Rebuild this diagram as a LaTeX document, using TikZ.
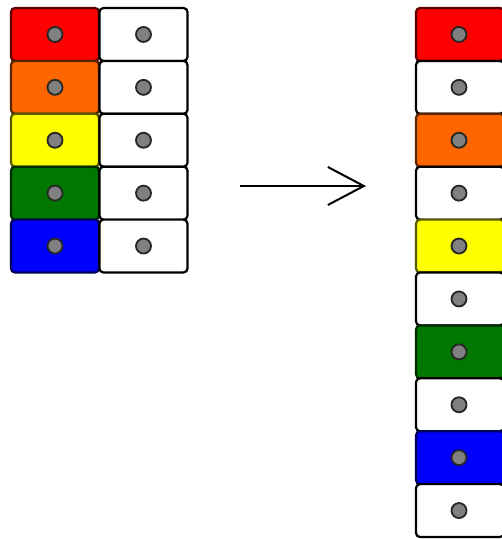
\documentclass[tikz,border=0pt]{standalone}
\usetikzlibrary{arrows.meta}
\definecolor{cred}{RGB}{255,0,0}
\definecolor{corange}{RGB}{255,102,0}
\definecolor{cyellow}{RGB}{255,255,0}
\definecolor{cgreen}{RGB}{0,120,0}
\definecolor{cblue}{RGB}{0,0,255}
\definecolor{cwhite}{RGB}{255,255,255}
\definecolor{cdot}{RGB}{128,128,128}
\tikzset{
  cell/.style={draw=black, line width=2.2pt, rounded corners=4pt, minimum width=88pt, minimum height=52.9pt, inner sep=0pt, outer sep=0pt},
  dot/.style={circle, draw=black!85, fill=cdot, line width=1.8pt, minimum size=15pt, inner sep=0pt},
  conn/.style={line width=2.2pt, -{Straight Barb[length=36pt,width=38pt,line width=2pt]}}
}
\begin{document}
\begin{tikzpicture}[x=1pt,y=-1pt]
\useasboundingbox (0,0) rectangle (502,539);
\clip (0,0) rectangle (502,539);
\fill[white] (0,0) rectangle (502,539);
% left block
\foreach \c [count=\i from 0] in {cred,corange,cyellow,cgreen,cblue} {
  \node[cell, fill=\c, draw=\c!35!black] (L\i) at (55,{8+26.45+52.9*\i}) {};
  \node[dot] (Ld\i) at (L\i.center) {};
  \node[cell, fill=white] (R\i) at (143.5,{8+26.45+52.9*\i}) {};
  \node[dot] (Rd\i) at (R\i.center) {};
}
% right block
\foreach \c/\d [count=\i from 0] in {cred/cred!35!black,cwhite/black,corange/corange!35!black,cwhite/black,cyellow/cyellow!35!black,cwhite/black,cgreen/cgreen!35!black,cwhite/black,cblue/cblue!35!black,cwhite/black} {
  \node[cell, fill=\c, draw=\d] (C\i) at (460,{8+26.45+52.9*\i}) {};
  \node[dot] (Cd\i) at (459,{8+26.45+52.9*\i}) {};
}
\coordinate (as) at (240,186);
\coordinate (ae) at (366,186);
\draw[conn] (as) -- (ae);
\end{tikzpicture}
\end{document}
